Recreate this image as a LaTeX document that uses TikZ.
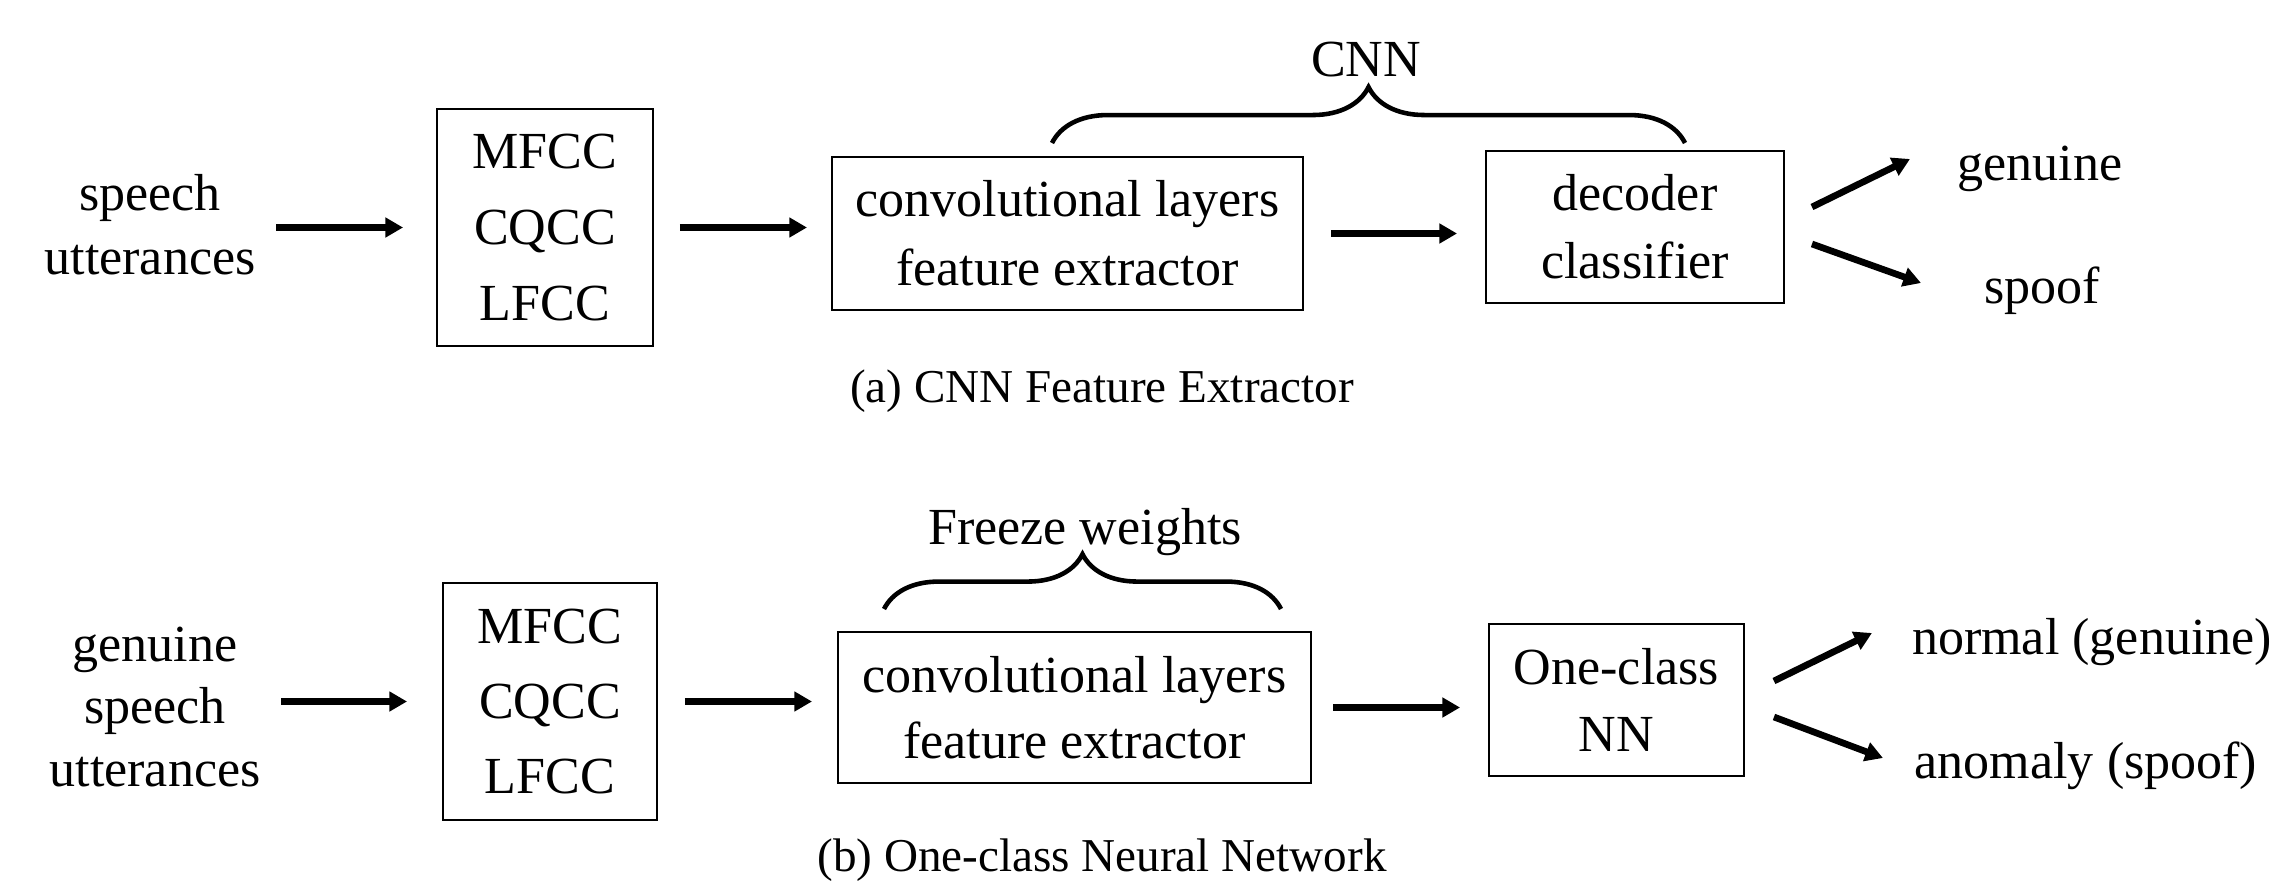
\documentclass[tikz,border=0pt]{standalone}
\usepackage{fontspec}
\setmainfont{Liberation Serif}
\usetikzlibrary{arrows.meta,calc,decorations.pathreplacing}
\begin{document}
\begin{tikzpicture}[x=0.01cm,y=-0.01cm,
  box/.style={draw=black,line width=0.5pt,inner sep=0pt,align=center},
  txt/.style={inner sep=0pt,align=center,font=\fontsize{14.8}{18.2}\selectfont},
  lbl/.style={inner sep=0pt,anchor=base,font=\fontsize{14.8}{18}\selectfont},
  captxt/.style={inner sep=0pt,anchor=base,font=\fontsize{13.4}{16}\selectfont},
  arr/.style={line width=1.9pt,-{Triangle[length=5pt,width=5.4pt]}},
  brc/.style={line width=1.3pt,decorate,decoration={brace,amplitude=15.9pt}}]
\useasboundingbox[fill=white] (0,0) rectangle (2282,882);

% ---------- (a) ----------
\node[txt] (in1) at (150,225) {speech\\utterances};
\node[box,minimum width=2.16cm,minimum height=2.37cm,font=\fontsize{14.8}{21.6}\selectfont]
  (feat1) at (545,227.5) {MFCC\\CQCC\\LFCC};
\node[box,minimum width=4.71cm,minimum height=1.53cm,font=\fontsize{14.8}{19.6}\selectfont]
  (conv1) at (1067.5,233.5) {convolutional layers\\feature extractor};
\node[box,minimum width=2.98cm,minimum height=1.52cm,font=\fontsize{14.8}{19.3}\selectfont]
  (dec1) at (1635,227) {decoder\\classifier};
\node[lbl] (gen1) at (2040,180) {genuine};
\node[lbl] (spf1) at (2042,303) {spoof};
\node[lbl] (cnn) at (1366,77) {CNN};
\node[captxt] (capa) at (1102,402) {(a) CNN Feature Extractor};

\coordinate (b1l) at (1052,143);
\coordinate (b1r) at (1685,143);
\draw[brc] (b1l) -- (b1r);

\draw[arr,shorten <=0.2cm,shorten >=0.33cm] (in1.east |- feat1.west) -- (feat1.west);
\draw[arr,shorten <=0.26cm,shorten >=0.24cm] (feat1.east) -- (feat1.east -| conv1.west);
\draw[arr,shorten <=0.27cm,shorten >=0.28cm] (conv1.east) -- (conv1.east -| dec1.west);
\draw[arr] ($(dec1.east)+(27,-20)$) -- ($(dec1.east)+(125,-68)$);
\draw[arr] ($(dec1.east)+(27,17)$) -- ($(dec1.east)+(136,56)$);

% ---------- (b) ----------
\node[txt,font=\fontsize{14.8}{17.9}\selectfont] (in2) at (155,707) {genuine\\speech\\utterances};
\node[box,minimum width=2.14cm,minimum height=2.37cm,font=\fontsize{14.8}{21.3}\selectfont]
  (feat2) at (550,701.5) {MFCC\\CQCC\\LFCC};
\node[box,minimum width=4.73cm,minimum height=1.51cm,font=\fontsize{14.8}{18.9}\selectfont]
  (conv2) at (1074.5,707.5) {convolutional layers\\feature extractor};
\node[box,minimum width=2.55cm,minimum height=1.52cm,font=\fontsize{14.8}{19}\selectfont]
  (ocnn) at (1616.5,700) {One-class\\NN};
\node[lbl] (norm) at (2092,654) {normal (genuine)};
\node[lbl] (anom) at (2086,778) {anomaly (spoof)};
\node[lbl] (frz) at (1085,544) {Freeze weights};
\node[captxt] (capb) at (1102,871) {(b) One-class Neural Network};

\coordinate (b2l) at (884,609);
\coordinate (b2r) at (1281,609);
\draw[brc,decoration={brace,amplitude=15.6pt}] (b2l) -- (b2r);

\draw[arr,shorten <=0.2cm,shorten >=0.35cm] (in2.east |- feat2.west) -- (feat2.west);
\draw[arr,shorten <=0.27cm,shorten >=0.25cm] (feat2.east) -- (feat2.east -| conv2.west);
\draw[arr,shorten <=0.21cm,shorten >=0.28cm] (conv2.east) -- (conv2.east -| ocnn.west);
\draw[arr] ($(ocnn.east)+(29,-19)$) -- ($(ocnn.east)+(127,-67)$);
\draw[arr] ($(ocnn.east)+(29,17)$) -- ($(ocnn.east)+(138,58)$);
\end{tikzpicture}
\end{document}
